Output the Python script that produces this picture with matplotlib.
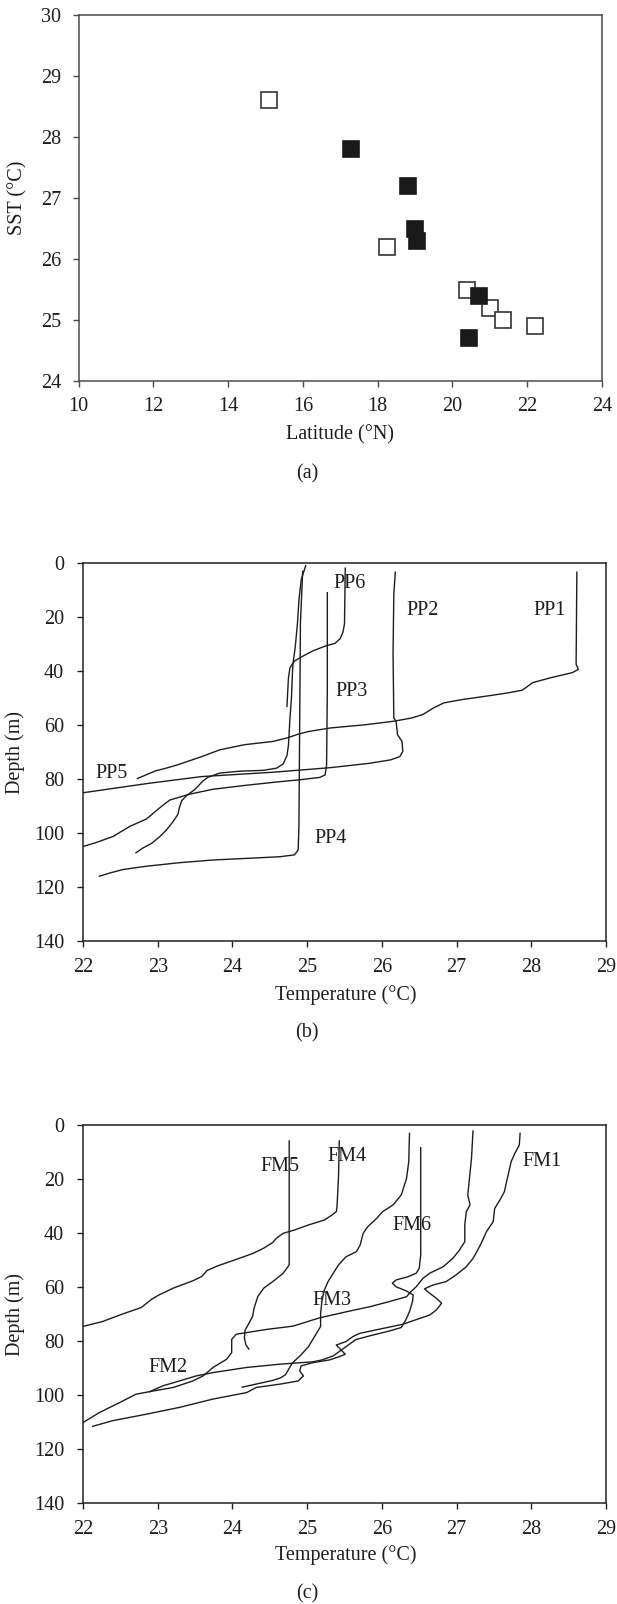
import matplotlib
matplotlib.use("Agg")
import matplotlib.pyplot as plt

plt.rcParams['font.family'] = ['Liberation Serif', 'DejaVu Serif']

# (a) sea surface temperature against latitude
open_lat = [15.1, 18.25, 20.4, 21.0, 21.35, 22.2]
open_sst = [28.6, 26.2, 25.5, 25.2, 25.0, 24.9]
filled_lat = [17.3, 18.8, 19.0, 19.05, 20.72, 20.44]
filled_sst = [27.8, 27.2, 26.5, 26.3, 25.4, 24.7]

# (b) PP profiles: temperature (degC) and depth (m)
pp1_temp = [28.61, 28.60, 28.63, 28.55, 28.26, 28.02, 27.88, 27.69, 27.40, 27.07, 26.83, 26.69,
            26.55, 26.40, 26.16, 25.78, 25.31, 25.02, 24.88, 24.73, 24.54, 24.16, 23.83, 23.59,
            23.26, 23.11, 22.97, 22.73]
pp1_depth = [3.4, 37.5, 39.4, 40.6, 42.5, 44.3, 47.1, 48.1, 49.3, 50.6, 51.8, 53.7,
             56.1, 57.4, 58.6, 59.9, 61.1, 62.4, 63.4, 64.8, 66.1, 67.3, 69.2, 71.7,
             74.8, 76.0, 77.0, 79.8]
pp2_temp = [26.18, 26.16, 26.15, 26.16, 26.19, 26.21, 26.27, 26.28, 26.24, 26.12, 25.83,
            25.31, 24.54, 23.59, 22.88, 22.40, 22.0]
pp2_depth = [3.4, 11.4, 33.8, 57.4, 58.6, 63.6, 66.1, 69.8, 71.7, 72.9, 74.2,
             75.8, 77.5, 79.1, 81.6, 83.5, 85.1]
pp3_temp = [25.27, 25.27, 25.26, 25.24, 25.17, 24.90, 24.63, 24.19, 23.74, 23.43, 23.16,
            23.03, 22.85, 22.63, 22.40, 22.18, 22.0]
pp3_depth = [11.0, 47.5, 75.0, 78.5, 79.4, 80.3, 81.0, 82.3, 83.8, 85.6, 87.8,
             90.6, 94.8, 97.5, 101.3, 103.5, 105.0]
pp4_temp = [24.94, 24.91, 24.90, 24.89, 24.88, 24.83, 24.63, 24.19, 23.74, 23.29, 22.85,
            22.54, 22.36, 22.22]
pp4_depth = [3.1, 22.5, 60.0, 97.5, 106.3, 108.1, 108.8, 109.4, 110.0, 111.0, 112.3,
             113.5, 114.8, 116.0]
pp5_temp = [24.98, 24.92, 24.89, 24.87, 24.84, 24.81, 24.80, 24.79, 24.77, 24.75, 24.73,
            24.68, 24.59, 24.41, 24.10, 23.83, 23.67, 23.61, 23.50, 23.38, 23.32, 23.29,
            23.27, 23.21, 23.12, 23.03, 22.92, 22.80, 22.71]
pp5_depth = [1.0, 6.3, 13.8, 22.5, 31.3, 37.5, 42.5, 50.0, 57.5, 67.5, 71.3,
             74.4, 76.0, 76.8, 77.1, 77.8, 79.4, 80.6, 83.8, 86.3, 88.1, 90.6,
             93.1, 95.6, 98.8, 101.3, 103.8, 105.6, 107.3]
pp6_temp = [25.51, 25.50, 25.48, 25.44, 25.37, 25.26, 25.08, 24.95, 24.83, 24.77, 24.75,
            24.74, 24.73]
pp6_depth = [1.9, 22.5, 25.6, 28.1, 29.8, 30.6, 32.5, 34.4, 36.3, 38.8, 42.5,
             47.5, 53.1]

# (c) FM profiles
fm1_temp = [27.85, 27.84, 27.78, 27.73, 27.69, 27.64, 27.58, 27.51, 27.49, 27.40, 27.33,
            27.26, 27.22, 27.13, 26.99, 26.86, 26.68, 26.57, 26.64, 26.73, 26.80, 26.73,
            26.64, 26.51, 26.28, 25.97, 25.70, 25.61, 25.52, 25.39, 25.51, 25.43, 25.30,
            25.08, 24.92, 24.90, 24.95, 24.88, 24.63, 24.32, 24.19, 23.74, 23.29, 22.85,
            22.40, 22.13]
fm1_depth = [3.1, 7.4, 10.5, 13.6, 18.5, 24.7, 27.8, 30.9, 35.8, 39.5, 43.8,
             47.5, 49.4, 52.5, 55.6, 58.0, 59.3, 60.7, 62.3, 64.2, 66.0, 68.5,
             70.4, 71.6, 73.8, 75.6, 77.2, 78.4, 80.2, 81.5, 84.9, 85.8, 87.0,
             88.0, 89.2, 91.1, 92.9, 94.8, 96.0, 97.2, 99.1, 101.5, 104.6, 107.1,
             109.5, 111.6]
fm2_temp = [27.22, 27.20, 27.15, 27.18, 27.13, 27.11, 27.11, 27.04, 26.95, 26.82, 26.64,
            26.55, 26.46, 26.39, 26.33, 26.10, 25.84, 25.57, 25.17, 24.81, 24.46, 24.05,
            23.99, 23.99, 23.92, 23.74, 23.61, 23.47, 23.21, 22.94, 22.71, 22.49, 22.22,
            22.0]
fm2_depth = [2.2, 12.3, 25.9, 29.6, 32.1, 37.0, 43.2, 46.3, 49.4, 52.5, 54.9,
             56.8, 59.9, 61.7, 63.6, 65.4, 67.3, 68.9, 71.4, 74.5, 75.7, 77.5,
             79.4, 84.3, 86.8, 89.8, 92.9, 94.8, 97.2, 98.5, 99.7, 102.8, 106.5,
             110.2]
fm3_temp = [26.37, 26.36, 26.33, 26.26, 26.15, 26.01, 25.93, 25.81, 25.75, 25.71, 25.66,
            25.52, 25.42, 25.35, 25.28, 25.23, 25.20, 25.18, 25.18, 25.10, 25.02, 24.92,
            24.80, 24.71, 24.64, 24.54, 24.13]
fm3_depth = [3.1, 13.6, 19.8, 25.9, 29.6, 32.1, 34.6, 37.7, 40.1, 44.4, 46.9,
             48.8, 51.8, 54.9, 58.0, 61.1, 64.8, 69.7, 74.6, 78.3, 82.0, 85.1,
             88.2, 92.5, 93.7, 94.6, 97.1]
fm4_temp = [25.43, 25.42, 25.40, 25.39, 25.33, 25.23, 25.02, 24.83, 24.68, 24.59, 24.54,
            24.42, 24.28, 24.07, 23.80, 23.66, 23.59, 23.47, 23.21, 23.02, 22.92, 22.78,
            22.52, 22.26, 22.0]
fm4_depth = [5.9, 19.1, 30.2, 32.1, 33.4, 35.2, 37.0, 38.9, 40.1, 41.9, 43.5,
             45.6, 47.5, 49.6, 52.2, 53.9, 56.1, 57.7, 60.4, 62.9, 64.5, 67.6,
             70.1, 72.8, 74.6]
fm5_temp = [24.76, 24.76, 24.68, 24.54, 24.42, 24.34, 24.29, 24.27, 24.21, 24.17, 24.16,
            24.18, 24.22]
fm5_depth = [5.9, 51.8, 54.9, 58.0, 60.4, 63.5, 67.8, 70.9, 74.0, 75.9, 78.9,
             81.4, 83.0]
fm6_temp = [26.52, 26.52, 26.50, 26.46, 26.35, 26.19, 26.14, 26.19, 26.33, 26.42, 26.41,
            26.37, 26.32, 26.26, 26.10, 25.85, 25.65, 25.55, 25.45, 25.35, 25.20, 25.08,
            24.63, 24.19, 23.74, 23.52, 23.29, 23.07, 22.89]
fm6_depth = [8.4, 48.1, 53.1, 54.9, 56.2, 57.4, 58.6, 59.9, 61.5, 63.0, 65.4,
             69.1, 72.2, 75.0, 76.3, 78.0, 79.5, 81.5, 83.5, 85.5, 87.0, 87.7,
             88.6, 89.8, 91.7, 92.9, 94.8, 96.6, 98.8]

pp_names = ["PP1", "PP2", "PP3", "PP4", "PP5", "PP6"]
pp_label_temp = [28.24, 26.55, 25.59, 25.31, 22.38, 25.57]
pp_label_depth = [17.6, 17.6, 47.7, 101.9, 77.9, 7.7]
fm_names = ["FM1", "FM2", "FM3", "FM4", "FM5", "FM6"]
fm_label_temp = [28.14, 23.14, 25.33, 25.53, 24.64, 26.40]
fm_label_depth = [13.6, 90.0, 65.0, 11.7, 15.4, 37.3]

W, H = 617, 1604
FS = 14.5
INK = "#1e1c1d"


def box(left, top, right, bottom):
    """axes rectangle from pixel edges"""
    return [left / W, 1 - bottom / H, (right - left) / W, (bottom - top) / H]


def fig_text(fig, x, y, s, **kw):
    fig.text(x / W, 1 - y / H, s, ha="center", va="center", fontsize=FS, color=INK, **kw)


def style_axes(ax, edge):
    for sp in ax.spines.values():
        sp.set_color(edge)
        sp.set_linewidth(1.1)
    ax.tick_params(direction="out", length=4.5, width=1.0, color=edge,
                   labelsize=FS, labelcolor=INK)
    ax.tick_params(axis="x", top=False, pad=8)
    ax.tick_params(axis="y", right=False, pad=8)


fig = plt.figure(figsize=(W / 100, H / 100), dpi=100)

# panel (a)
ax = fig.add_axes(box(78.5, 15, 602, 381))
ax.plot(open_lat, open_sst, "s", ms=11.5, mfc="white", mec="#333333", mew=1.2, ls="none")
ax.plot(filled_lat, filled_sst, "s", ms=11.5, mfc="#1a1a1a", mec="#1a1a1a", mew=1.2, ls="none")
ax.set_xlim(10, 24)
ax.set_ylim(24, 30)
ax.set_xticks(range(10, 25, 2))
ax.set_yticks(range(24, 31))
style_axes(ax, "#4a4a4a")
ax.tick_params(axis="x", pad=7)
fig_text(fig, 340, 435, "Latitude (°N)")
fig_text(fig, 18, 198, "SST (°C)", rotation=90)
fig_text(fig, 307, 474, "(a)")


def profile_axes(rect, temps, depths, names, lab_t, lab_d, xlabel_y, cap_y, caption):
    ax = fig.add_axes(rect)
    for t, d in zip(temps, depths):
        ax.plot(t, d, color=INK, lw=1.0)
    for n, t, d in zip(names, lab_t, lab_d):
        ax.text(t, d, n, ha="center", va="center", fontsize=FS, color=INK)
    ax.set_xlim(22, 29)
    ax.set_ylim(140, 0)
    ax.set_xticks(range(22, 30))
    ax.set_yticks(range(0, 141, 20))
    style_axes(ax, "#222222")
    ax.tick_params(axis="y", pad=9)
    fig_text(fig, 346, xlabel_y, "Temperature (°C)")
    fig_text(fig, 307, cap_y, caption)
    return ax


profile_axes(box(83, 563, 606, 941),
             [pp1_temp, pp2_temp, pp3_temp, pp4_temp, pp5_temp, pp6_temp],
             [pp1_depth, pp2_depth, pp3_depth, pp4_depth, pp5_depth, pp6_depth],
             pp_names, pp_label_temp, pp_label_depth, 995, 1033, "(b)")
fig_text(fig, 15, 752, "Depth (m)", rotation=90)

profile_axes(box(83, 1125, 606, 1503),
             [fm1_temp, fm2_temp, fm3_temp, fm4_temp, fm5_temp, fm6_temp],
             [fm1_depth, fm2_depth, fm3_depth, fm4_depth, fm5_depth, fm6_depth],
             fm_names, fm_label_temp, fm_label_depth, 1555, 1594, "(c)")
fig_text(fig, 15, 1314, "Depth (m)", rotation=90)

fig.savefig("out.png", dpi=100)
